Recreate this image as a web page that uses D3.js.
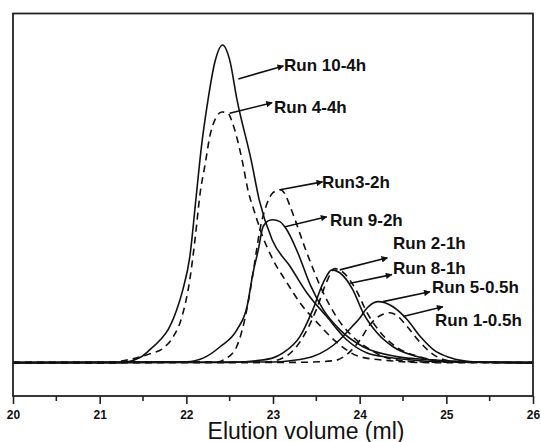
<!DOCTYPE html>
<html>
<head>
<meta charset="utf-8">
<script src="https://cdn.jsdelivr.net/npm/d3@7"></script>
<style>
  body { margin: 0; background: #fff; }
  svg { display: block; }
</style>
</head>
<body>
<div id="chart"></div>
<script>
  // elution volume (ml), signal (normalised to the Run 10 peak)
  const run10 = [[20,0],[21.0,0],[21.235,0.0],[21.465,0.016],[21.58,0.041],[21.70,0.072],[21.79,0.104],[21.89,0.167],[21.96,0.230],[22.04,0.333],[22.11,0.513],[22.17,0.670],[22.25,0.827],[22.33,0.947],[22.42,1.0],[22.50,0.953],[22.585,0.827],[22.75,0.635],[22.84,0.513],[22.99,0.387],[23.20,0.302],[23.39,0.220],[23.62,0.145],[23.85,0.072],[24.08,0.031],[24.35,0.016],[24.70,0.006],[25.15,0.002],[26,0]]
  const run4 = [[20,0],[21.0,0],[21.27,0.006],[21.58,0.028],[21.73,0.045],[21.85,0.082],[21.95,0.145],[22.04,0.261],[22.10,0.387],[22.16,0.535],[22.22,0.629],[22.27,0.711],[22.34,0.77],[22.41,0.789],[22.48,0.786],[22.52,0.764],[22.59,0.701],[22.65,0.629],[22.71,0.544],[22.78,0.480],[22.87,0.405],[23.0,0.324],[23.16,0.252],[23.31,0.189],[23.51,0.126],[23.74,0.063],[24.0,0.019],[24.35,0.006],[24.81,0],[26,0]]
  const run3 = [[20,0],[22.35,0.002],[22.45,0.012],[22.58,0.050],[22.70,0.170],[22.78,0.300],[22.85,0.420],[22.93,0.500],[23.0,0.535],[23.08,0.544],[23.14,0.530],[23.20,0.490],[23.39,0.346],[23.58,0.220],[23.73,0.145],[23.92,0.082],[24.12,0.041],[24.35,0.012],[24.7,0.002],[26,0]]
  const run9 = [[20,0],[22.0,0.003],[22.2,0.015],[22.39,0.050],[22.585,0.104],[22.70,0.176],[22.77,0.283],[22.83,0.355],[22.885,0.428],[22.95,0.447],[23.0,0.450],[23.08,0.444],[23.15,0.422],[23.28,0.350],[23.43,0.245],[23.58,0.167],[23.77,0.104],[24.04,0.050],[24.43,0.019],[24.81,0.009],[25.27,0.003],[26,0]]
  const run2 = [[20,0],[22.5,0.001],[22.8,0.006],[23.0,0.015],[23.115,0.031],[23.31,0.082],[23.46,0.167],[23.58,0.252],[23.68,0.292],[23.77,0.283],[23.92,0.230],[24.04,0.157],[24.2,0.094],[24.385,0.050],[24.66,0.019],[25.0,0.003],[26,0]]
  const run8 = [[20,0],[22.9,0.001],[23.15,0.020],[23.35,0.082],[23.50,0.167],[23.62,0.255],[23.71,0.296],[23.81,0.284],[23.96,0.228],[24.09,0.155],[24.25,0.092],[24.43,0.048],[24.70,0.018],[25.05,0.003],[26,0]]
  const run5 = [[20,0],[23.0,0.002],[23.2,0.006],[23.46,0.019],[23.77,0.072],[23.90,0.110],[24.0,0.140],[24.085,0.172],[24.21,0.192],[24.30,0.188],[24.385,0.176],[24.55,0.135],[24.70,0.082],[24.85,0.041],[25.04,0.016],[25.31,0.003],[26,0]]
  const run1 = [[20,0],[23.3,0.001],[23.7,0.006],[23.85,0.025],[24.0,0.070],[24.12,0.120],[24.25,0.150],[24.35,0.157],[24.42,0.150],[24.55,0.113],[24.70,0.063],[24.89,0.019],[25.12,0.003],[26,0]]

  const runNames = ["Run 10-4h", "Run 4-4h", "Run3-2h", "Run 9-2h", "Run 2-1h", "Run 8-1h", "Run 5-0.5h", "Run 1-0.5h"]
  const runData = [run10, run4, run3, run9, run2, run8, run5, run1]
  const runDashed = [false, true, true, false, false, true, false, true]

  // annotation arrows: start on the curve, tip near the label
  const arrowFrom = [[22.60,0.893],[22.50,0.785],[23.08,0.544],[23.14,0.428],[23.77,0.292],[23.89,0.250],[24.27,0.192],[24.50,0.145]]
  const arrowTo = [[23.12,0.934],[22.99,0.818],[23.57,0.569],[23.62,0.459],[24.32,0.330],[24.37,0.277],[24.81,0.223],[24.96,0.176]]
  const labelAt = [[23.127,0.937],[23.012,0.806],[23.565,0.569],[23.658,0.450],[24.385,0.377],[24.385,0.299],[24.835,0.239],[24.869,0.135]]

  const xTicks = [20, 21, 22, 23, 24, 25, 26]
  const xMinor = [20.5, 21.5, 22.5, 23.5, 24.5, 25.5]

  let width = 541, height = 442
  let mLeft = 13, mRight = 533, mTop = 13.5, mBottom = 396

  let svg = d3.select("#chart").append("svg")
    .attr("width", width)
    .attr("height", height)

  let x = d3.scaleLinear().domain([20, 26]).range([mLeft, mRight])
  let y = d3.scaleLinear().domain([-0.105, 1.099]).range([mBottom, mTop])

  svg.append("defs").append("marker")
    .attr("id", "head")
    .attr("viewBox", "0 0 10 10")
    .attr("refX", 9).attr("refY", 5)
    .attr("markerUnits", "userSpaceOnUse")
    .attr("markerWidth", 11).attr("markerHeight", 6.5)
    .attr("orient", "auto")
    .append("path").attr("d", "M0,0L10,5L0,10z").attr("fill", "#111")

  let line = d3.line()
    .x(function(d){ return x(d[0]) })
    .y(function(d){ return y(d[1]) })
    .curve(d3.curveMonotoneX)

  let curves = svg.append("g").attr("class", "curves")
  runData.forEach(function(pts, i){
    curves.append("path")
      .datum(pts)
      .attr("d", line)
      .attr("fill", "none")
      .attr("stroke", "#111")
      .attr("stroke-width", 1.6)
      .attr("stroke-linejoin", "round")
      .attr("stroke-dasharray", runDashed[i] ? "7,5" : null)
  })

  // frame
  svg.append("rect")
    .attr("x", mLeft).attr("y", mTop)
    .attr("width", mRight - mLeft).attr("height", mBottom - mTop)
    .attr("fill", "none")
    .attr("stroke", "#222")
    .attr("stroke-width", 1.8)

  // bottom axis
  let xAxis = d3.axisBottom(x).tickValues(xTicks).tickFormat(d3.format("d"))
    .tickSize(8).tickSizeOuter(0).tickPadding(6)
  let gx = svg.append("g").attr("transform", "translate(0," + mBottom + ")").call(xAxis)
  gx.select(".domain").remove()
  gx.selectAll(".tick line").attr("stroke", "#222").attr("stroke-width", 1.6)
  gx.selectAll(".tick text")
    .style("font-family", "Liberation Sans, Arial, sans-serif")
    .style("font-weight", "bold")
    .style("font-size", "12px")
    .attr("fill", "#111")

  svg.append("g").selectAll("line").data(xMinor).enter().append("line")
    .attr("x1", function(d){ return x(d) }).attr("x2", function(d){ return x(d) })
    .attr("y1", mBottom).attr("y2", mBottom + 5)
    .attr("stroke", "#222").attr("stroke-width", 1.6)

  svg.append("text")
    .attr("x", 306)
    .attr("y", 439)
    .attr("text-anchor", "middle")
    .style("font-family", "Liberation Sans, Arial, sans-serif")
    .style("font-size", "23px")
    .attr("fill", "#111")
    .text("Elution volume (ml)")

  // labels with arrows
  let notes = svg.append("g").attr("class", "notes")
  runNames.forEach(function(name, i){
    notes.append("line")
      .attr("x1", x(arrowFrom[i][0])).attr("y1", y(arrowFrom[i][1]))
      .attr("x2", x(arrowTo[i][0])).attr("y2", y(arrowTo[i][1]))
      .attr("stroke", "#111")
      .attr("stroke-width", 1.6)
      .attr("marker-end", "url(#head)")
    notes.append("text")
      .attr("x", x(labelAt[i][0]))
      .attr("y", y(labelAt[i][1]))
      .attr("dy", "0.36em")
      .style("font-family", "Liberation Sans, Arial, sans-serif")
      .style("font-weight", "bold")
      .style("font-size", "17px")
      .attr("fill", "#111")
      .text(name)
  })
</script>
</body>
</html>
